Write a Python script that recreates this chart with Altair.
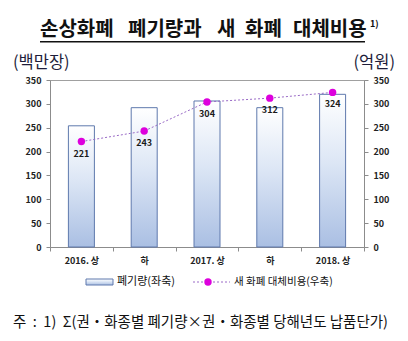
import altair as alt
import pandas as pd

# ---- data ----
period_keys = ["p1", "p2", "p3", "p4", "p5"]
period_labels = ["2016. 상", "하", "2017. 상", "하", "2018. 상"]
disposal = [254, 292, 306, 292, 320]   # 폐기량 (백만장, 좌축)
cost = [221, 243, 304, 312, 324]       # 새 화폐 대체비용 (억원, 우축)
y_ticks = [0, 50, 100, 150, 200, 250, 300, 350]

df = pd.DataFrame({"key": period_keys, "label": period_labels,
                   "disposal": disposal, "cost": cost})

KFONT = "Noto Sans CJK KR"
label_expr = "{" + ",".join(f"'{k}':'{l}'" for k, l in zip(period_keys, period_labels)) + "}[datum.value]"

grad = alt.Gradient(
    gradient="linear",
    stops=[alt.GradientStop(color="#ffffff", offset=0),
           alt.GradientStop(color="#dce6f5", offset=0.45),
           alt.GradientStop(color="#aabfe3", offset=1)],
    x1=0, x2=0, y1=0, y2=1,
)

x_enc = alt.X("key:N", sort=period_keys,
              scale=alt.Scale(paddingInner=0, paddingOuter=0),
              axis=alt.Axis(title=None, labelExpr=label_expr, tickBand="extent",
                            labelAngle=0, labelFont=KFONT, labelFontSize=9,
                            labelFontWeight="bold", labelColor="#222",
                            domainColor="#8c8c8c", tickColor="#8c8c8c",
                            tickSize=4, labelPadding=5))

def y_axis(orient):
    return alt.Axis(title=None, orient=orient, values=y_ticks, grid=False,
                    domainColor="#8c8c8c", tickColor="#8c8c8c", tickSize=4,
                    labelPadding=5, labelFont=KFONT, labelFontSize=9,
                    labelFontWeight="bold", labelColor="#222")

base = alt.Chart(df)

bars = base.mark_bar(width=26, fill=grad, stroke="#5f79ad", strokeWidth=1).encode(
    x=x_enc,
    y=alt.Y("disposal:Q", scale=alt.Scale(domain=[0, 350], nice=False), axis=y_axis("left")),
)

y_right = alt.Y("cost:Q", scale=alt.Scale(domain=[0, 350], nice=False), axis=y_axis("right"))
line = base.mark_line(color="#9a6bc7", strokeDash=[2, 2], strokeWidth=1).encode(x=x_enc, y=y_right)
pts = base.mark_circle(size=55, color="#dd00dd", opacity=1).encode(x=x_enc, y=y_right)
lbls = base.mark_text(dy=12, font=KFONT, fontSize=9, fontWeight="bold", color="#1a1a1a").encode(
    x=x_enc, y=y_right, text="cost:Q")
right = alt.layer(line, pts, lbls)

one = pd.DataFrame({"o": [0]})

def txt(s, x, y, size, align="left", weight="normal", color="#111", baseline="middle"):
    return alt.Chart(one).mark_text(text=s, align=align, baseline=baseline, font=KFONT,
                                    fontSize=size, fontWeight=weight, color=color).encode(
        x=alt.value(x), y=alt.value(y))

NB = "\u00a0"
footnote = f"주{NB}{NB}:{NB}{NB}1){NB}{NB}Σ(권・화종별 폐기량×권・화종별 당해년도 납품단가)"

annotations = [
    txt("손상화폐", -10, -50, 20, weight="bold"),
    txt("폐기량과", 78, -50, 20, weight="bold"),
    txt("새", 167, -50, 20, weight="bold"),
    txt("화폐", 195, -50, 20, weight="bold"),
    txt("대체비용", 243, -50, 20, weight="bold"),
    txt("1)", 320, -56, 9, weight="bold"),
    alt.Chart(one).mark_rect(color="#111").encode(
        x=alt.value(-10), x2=alt.value(315), y=alt.value(-39), y2=alt.value(-37.5)),
    txt("(백만장)", -37, -17, 16.5, color="#1d1d3a"),
    txt("(억원)", 345, -17, 16.5, align="right", color="#1d1d3a"),
    # legend
    alt.Chart(one).mark_rect(fill=grad, stroke="#5f79ad", strokeWidth=1).encode(
        x=alt.value(36), x2=alt.value(63), y=alt.value(199), y2=alt.value(205)),
    txt("폐기량(좌축)", 67, 202, 11, color="#111"),
    alt.Chart(one).mark_rule(color="#9a6bc7", strokeDash=[2, 2], strokeWidth=1).encode(
        x=alt.value(143), x2=alt.value(180), y=alt.value(202)),
    alt.Chart(one).mark_circle(size=55, color="#dd00dd", opacity=1).encode(
        x=alt.value(158), y=alt.value(202)),
    txt("새 화폐 대체비용(우축)", 184, 202, 10.5, color="#111"),
    # footnote
    txt(footnote, -37, 243, 14.5, color="#111"),
]

chart = alt.layer(bars, right, *annotations).resolve_scale(y="independent").properties(
    width=314, height=167,
    autosize=alt.AutoSizeParams(type="none"),
    padding={"left": 50, "top": 80, "right": 44, "bottom": 94},
    background="white",
).configure_view(stroke="#a0a0a0")

chart.save("out.html", embed_options={"renderer": "svg", "actions": False})
